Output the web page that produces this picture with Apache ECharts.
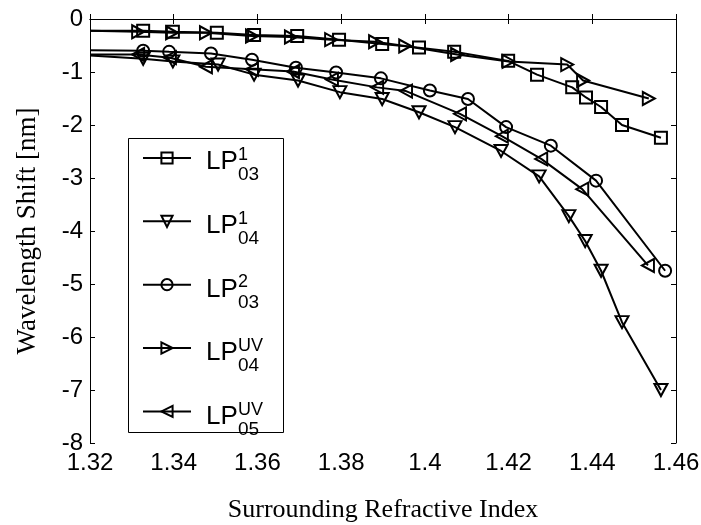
<!DOCTYPE html>
<html>
<head>
<meta charset="utf-8">
<script src="https://cdn.jsdelivr.net/npm/echarts@6.0.0/dist/echarts.min.js"></script>
<style>
html, body { margin: 0; padding: 0; background: #fff; }
#chart { width: 701px; height: 525px; }
</style>
</head>
<body>
<div id="chart"></div>
<script>
// Resonance wavelength shift [nm] versus surrounding refractive index, per cladding mode.
// Each entry is [refractive index, shift]; the first entry sits on the left axis edge.
const lp03_1 = [[1.32,-0.22],[1.3327,-0.22],[1.3398,-0.24],[1.3503,-0.26],[1.3592,-0.30],[1.3695,-0.32],[1.3795,-0.39],[1.3898,-0.47],[1.3986,-0.54],[1.4070,-0.62],[1.4199,-0.79],[1.4268,-1.05],[1.4352,-1.29],[1.4385,-1.48],[1.4421,-1.66],[1.4471,-2.00],[1.4564,-2.24]];
const lp04_1 = [[1.32,-0.69],[1.3327,-0.75],[1.3398,-0.80],[1.3506,-0.86],[1.3592,-1.05],[1.3697,-1.16],[1.3797,-1.38],[1.3898,-1.51],[1.3986,-1.76],[1.4072,-2.04],[1.4182,-2.49],[1.4273,-2.97],[1.4344,-3.72],[1.4383,-4.19],[1.4421,-4.75],[1.4471,-5.72],[1.4564,-7.00]];
const lp03_2 = [[1.32,-0.59],[1.3327,-0.60],[1.3389,-0.62],[1.3489,-0.65],[1.3587,-0.77],[1.3692,-0.92],[1.3788,-1.01],[1.3895,-1.12],[1.4012,-1.35],[1.4103,-1.51],[1.4194,-2.04],[1.4301,-2.39],[1.4409,-3.05],[1.4574,-4.75]];
const lp04_uv = [[1.32,-0.22],[1.3315,-0.24],[1.3396,-0.26],[1.3477,-0.26],[1.3587,-0.32],[1.3680,-0.34],[1.3776,-0.39],[1.3881,-0.43],[1.3953,-0.51],[1.4077,-0.67],[1.4200,-0.80],[1.4340,-0.86],[1.4378,-1.16],[1.4535,-1.50]];
const lp05_uv = [[1.32,-0.67],[1.3315,-0.67],[1.3391,-0.73],[1.3477,-0.90],[1.3587,-0.95],[1.3685,-0.99],[1.3778,-1.14],[1.3886,-1.29],[1.3955,-1.36],[1.4084,-1.79],[1.4184,-2.21],[1.4278,-2.64],[1.4376,-3.21],[1.4533,-4.65]];

// Legend labels: base text, superscript, subscript
const legendBase = ['LP', 'LP', 'LP', 'LP', 'LP'];
const legendSup = ['1', '1', '2', 'UV', 'UV'];
const legendSub = ['03', '04', '03', '04', '05'];

const xTicks = { min: 1.32, max: 1.46, step: 0.02 };
const yTicks = { min: -8, max: 0, step: 1 };

const chart = echarts.init(document.getElementById('chart'), null, { renderer: 'canvas' });

const TRI_DOWN = 'path://M0,0L20,0L10,18Z';
const TRI_RIGHT = 'path://M0,0L18,10L0,20Z';
const TRI_LEFT = 'path://M18,0L0,10L18,20Z';

const seriesDefs = [
  { data: lp03_1, symbol: 'rect', size: 12 },
  { data: lp04_1, symbol: TRI_DOWN, size: [13, 12] },
  { data: lp03_2, symbol: 'circle', size: 12 },
  { data: lp04_uv, symbol: TRI_RIGHT, size: [12, 13] },
  { data: lp05_uv, symbol: TRI_LEFT, size: [12, 13] }
];

const names = legendSub.map((s, i) => legendBase[i] + s + '^' + legendSup[i]);

const series = seriesDefs.map((d, i) => ({
  name: names[i],
  type: 'line',
  data: d.data.map((p, j) => j === 0 ? { value: p, symbol: 'none' } : p),
  symbol: d.symbol,
  symbolSize: d.size,
  showAllSymbol: true,
  clip: true,
  animation: false,
  lineStyle: { color: '#000', width: 2 },
  itemStyle: { color: 'rgba(0,0,0,0)', borderColor: '#000', borderWidth: 2 },
  emphasis: { disabled: true }
}));

// legend layout
const legBox = { x: 128, y: 138, w: 155, h: 294 };
const rowY0 = 158, rowStep = 63.75;

const graphics = [
  { type: 'rect', shape: { x: legBox.x + 0.5, y: legBox.y + 0.5, width: legBox.w, height: legBox.h },
    style: { fill: '#fff', stroke: '#000', lineWidth: 1 }, z: 50 }
];
legendBase.forEach((b, i) => {
  const cy = rowY0 + i * rowStep;
  graphics.push({ type: 'text', x: 206, y: cy + 4, z: 60,
    style: { text: b, font: '26px "Liberation Sans", Arial, sans-serif', fill: '#000', verticalAlign: 'middle' } });
  graphics.push({ type: 'text', x: 238, y: cy - 3, z: 60,
    style: { text: legendSup[i], font: '18px "Liberation Sans", Arial, sans-serif', fill: '#000', verticalAlign: 'middle' } });
  graphics.push({ type: 'text', x: 238, y: cy + 17, z: 60,
    style: { text: legendSub[i], font: '19px "Liberation Sans", Arial, sans-serif', fill: '#000', verticalAlign: 'middle' } });
});

const tickFont = { fontFamily: '"Liberation Sans", Arial, sans-serif', fontSize: 24, color: '#000' };
const axisLine = { show: true, lineStyle: { color: '#000', width: 1 } };
const axisTick = { show: true, inside: true, length: 5, lineStyle: { color: '#000', width: 1 } };

chart.setOption({
  backgroundColor: '#fff',
  animation: false,
  grid: { left: 90, right: 25, top: 19, bottom: 82, containLabel: false, outerBoundsMode: 'none' },
  xAxis: [
    { type: 'value', min: xTicks.min, max: xTicks.max, interval: xTicks.step, position: 'bottom',
      axisLine, axisTick, splitLine: { show: false },
      axisLabel: { ...tickFont, margin: 8, formatter: v => String(parseFloat(v.toFixed(2))) },
      name: 'Surrounding Refractive Index', nameLocation: 'middle', nameGap: 54,
      nameTextStyle: { fontFamily: '"Liberation Serif", "Times New Roman", serif', fontSize: 26, color: '#000' } },
    { type: 'value', min: xTicks.min, max: xTicks.max, interval: xTicks.step, position: 'top',
      axisLine, axisTick, splitLine: { show: false }, axisLabel: { show: false } }
  ],
  yAxis: [
    { type: 'value', min: yTicks.min, max: yTicks.max, interval: yTicks.step, position: 'left',
      axisLine, axisTick, splitLine: { show: false },
      axisLabel: { ...tickFont, margin: 7 },
      name: 'Wavelength Shift [nm]', nameLocation: 'middle', nameGap: 49,
      nameTextStyle: { fontFamily: '"Liberation Serif", "Times New Roman", serif', fontSize: 27, color: '#000' } },
    { type: 'value', min: yTicks.min, max: yTicks.max, interval: yTicks.step, position: 'right',
      axisLine, axisTick, splitLine: { show: false }, axisLabel: { show: false } }
  ],
  legend: {
    orient: 'vertical', left: 142, top: rowY0 - 7, padding: 0,
    itemWidth: 48, itemHeight: 14, itemGap: rowStep - 14,
    data: names, formatter: () => '', selectedMode: false, z: 55,
    textStyle: { fontSize: 1 }
  },
  graphic: graphics,
  series
});
</script>
</body>
</html>
